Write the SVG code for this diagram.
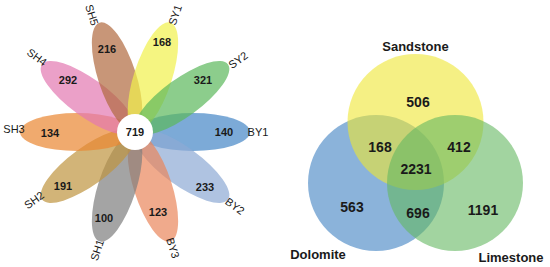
<svg xmlns="http://www.w3.org/2000/svg" width="550" height="267" viewBox="0 0 550 267">
<style>
.petal{opacity:0.7}
.num{font-family:"Liberation Sans",Arial,sans-serif;font-weight:bold;font-size:11px;fill:#1a1a1a;text-anchor:middle;dominant-baseline:central}
.lab{font-family:"Liberation Sans",Arial,sans-serif;font-size:11px;fill:#1a1a1a;text-anchor:middle;dominant-baseline:central}
.vnum{font-family:"Liberation Sans",Arial,sans-serif;font-weight:bold;font-size:14px;fill:#1a1a1a;text-anchor:middle;dominant-baseline:central}
.vlab{font-family:"Liberation Sans",Arial,sans-serif;font-weight:bold;font-size:13px;fill:#1a1a1a;text-anchor:middle;dominant-baseline:central}
.vc{opacity:0.6}
</style>
<rect width="550" height="267" fill="#ffffff"/>
<g id="flower">
<g id="BY1"><ellipse class="petal" cx="193" cy="132" rx="57" ry="19" fill="#4586c6" transform="rotate(0 135 132)"/></g>
<g id="BY2"><ellipse class="petal" cx="193" cy="132" rx="57" ry="19" fill="#8da9d4" transform="rotate(36 135 132)"/></g>
<g id="BY3"><ellipse class="petal" cx="193" cy="132" rx="57" ry="19" fill="#ea865b" transform="rotate(72 135 132)"/></g>
<g id="SH1"><ellipse class="petal" cx="193" cy="132" rx="57" ry="19" fill="#7e7e7e" transform="rotate(108 135 132)"/></g>
<g id="SH2"><ellipse class="petal" cx="193" cy="132" rx="57" ry="19" fill="#bf943e" transform="rotate(144 135 132)"/></g>
<g id="SH3"><ellipse class="petal" cx="193" cy="132" rx="57" ry="19" fill="#ea8630" transform="rotate(180 135 132)"/></g>
<g id="SH4"><ellipse class="petal" cx="193" cy="132" rx="57" ry="19" fill="#e277b0" transform="rotate(216 135 132)"/></g>
<g id="SH5"><ellipse class="petal" cx="193" cy="132" rx="57" ry="19" fill="#b0693e" transform="rotate(252 135 132)"/></g>
<g id="SY1"><ellipse class="petal" cx="193" cy="132" rx="57" ry="19" fill="#f1f14c" transform="rotate(288 135 132)"/></g>
<g id="SY2"><ellipse class="petal" cx="193" cy="132" rx="57" ry="19" fill="#5bb85b" transform="rotate(324 135 132)"/></g>
<g id="core"><circle cx="135" cy="132" r="18" fill="#ffffff"/><text class="num" x="135" y="132">719</text></g>
<g id="petal-numbers">
<text class="num" x="224" y="132">140</text>
<text class="num" x="205" y="187">233</text>
<text class="num" x="158" y="212">123</text>
<text class="num" x="104" y="218">100</text>
<text class="num" x="63" y="186">191</text>
<text class="num" x="50" y="133">134</text>
<text class="num" x="68" y="80">292</text>
<text class="num" x="107" y="49">216</text>
<text class="num" x="162" y="42">168</text>
<text class="num" x="203" y="80">321</text>
</g>
<g id="petal-labels">
<text class="lab" x="258" y="132">BY1</text>
<text class="lab" transform="translate(235 206) rotate(36)">BY2</text>
<text class="lab" transform="translate(173 248) rotate(72)">BY3</text>
<text class="lab" transform="translate(97 250) rotate(-72)">SH1</text>
<text class="lab" transform="translate(34 200) rotate(-36)">SH2</text>
<text class="lab" x="14" y="129">SH3</text>
<text class="lab" transform="translate(37 57) rotate(36)">SH4</text>
<text class="lab" transform="translate(92 15) rotate(72)">SH5</text>
<text class="lab" transform="translate(175 15) rotate(-72)">SY1</text>
<text class="lab" transform="translate(238 60) rotate(-36)">SY2</text>
</g>
</g>
<g id="venn">
<g id="Dolomite"><circle class="vc" cx="376" cy="183" r="68" fill="#3e80c1"/></g>
<g id="Sandstone"><circle class="vc" cx="415.5" cy="122" r="68" fill="#eee632"/></g>
<g id="Limestone"><circle class="vc" cx="455" cy="183" r="68" fill="#64b761"/></g>
<g id="venn-labels">
<text class="vlab" x="415.5" y="46">Sandstone</text>
<text class="vlab" x="318" y="254">Dolomite</text>
<text class="vlab" x="511" y="257">Limestone</text>
</g>
<g id="venn-numbers">
<text class="vnum" x="418" y="102">506</text>
<text class="vnum" x="380" y="147">168</text>
<text class="vnum" x="459" y="147">412</text>
<text class="vnum" x="416" y="169">2231</text>
<text class="vnum" x="352" y="207">563</text>
<text class="vnum" x="418" y="213">696</text>
<text class="vnum" x="483" y="210">1191</text>
</g>
</g>
<g id="connectors"/>
</svg>
